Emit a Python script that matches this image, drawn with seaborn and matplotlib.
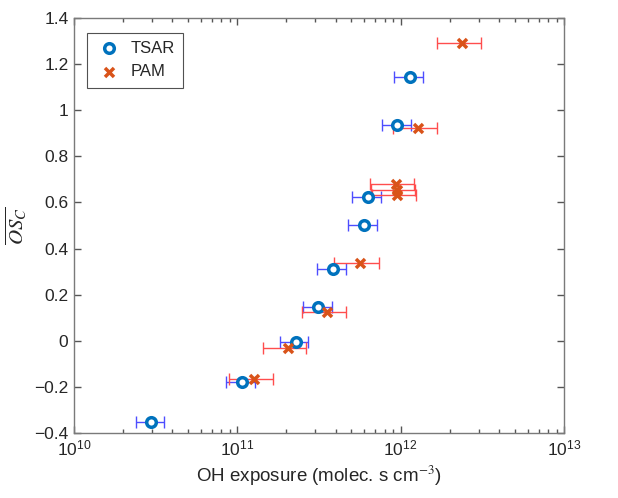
import numpy as np
import pandas as pd
import matplotlib
matplotlib.use("Agg")
import matplotlib.pyplot as plt
import seaborn as sns
from matplotlib.ticker import LogLocator, NullFormatter, FixedLocator, FixedFormatter

# TSAR data
tsar_x = [2.96e10, 1.07e11, 2.29e11, 3.13e11, 3.84e11, 5.97e11, 6.31e11, 9.55e11, 1.14e12]
tsar_y = [-0.353, -0.177, -0.005, 0.148, 0.313, 0.500, 0.625, 0.936, 1.143]
tsar_lo = [2.39e10, 8.57e10, 1.83e11, 2.52e11, 3.09e11, 4.77e11, 5.06e11, 7.66e11, 9.10e11]
tsar_hi = [3.57e10, 1.28e11, 2.72e11, 3.80e11, 4.63e11, 7.17e11, 7.55e11, 1.15e12, 1.37e12]

# PAM data
pam_x = [1.27e11, 2.03e11, 3.56e11, 5.61e11, 9.38e11, 9.50e11, 9.55e11, 1.27e12, 2.39e12]
pam_y = [-0.167, -0.032, 0.124, 0.336, 0.681, 0.655, 0.632, 0.922, 1.293]
pam_lo = [8.95e10, 1.43e11, 2.49e11, 3.93e11, 6.53e11, 6.60e11, 6.65e11, 8.93e11, 1.66e12]
pam_hi = [1.65e11, 2.63e11, 4.63e11, 7.38e11, 1.21e12, 1.23e12, 1.24e12, 1.66e12, 3.12e12]

y_ticks = [-0.4, -0.2, 0, 0.2, 0.4, 0.6, 0.8, 1, 1.2, 1.4]
y_labels = ['\u22120.4', '\u22120.2', '0', '0.2', '0.4', '0.6', '0.8', '1', '1.2', '1.4']

sns.set_style("ticks")
plt.rcParams.update({'font.family': ['Liberation Sans', 'DejaVu Sans'],
                     'mathtext.fontset': 'stix',
                     'axes.axisbelow': False})

fig = plt.figure(figsize=(6.18, 4.98), dpi=100)
ax = fig.add_axes([0.1197, 0.1305, 0.7929, 0.8334])

tsar = pd.DataFrame({"x": tsar_x, "y": tsar_y, "lo": tsar_lo, "hi": tsar_hi})
pam = pd.DataFrame({"x": pam_x, "y": pam_y, "lo": pam_lo, "hi": pam_hi})

ax.errorbar(tsar_x, tsar_y,
            xerr=[tsar["x"].values - tsar["lo"].values, tsar["hi"].values - tsar["x"].values],
            fmt='none', ecolor=(0.3, 0.3, 1.0), elinewidth=1.0, capsize=4, capthick=1.0, zorder=2)
ax.errorbar(pam_x, pam_y,
            xerr=[pam["x"].values - pam["lo"].values, pam["hi"].values - pam["x"].values],
            fmt='none', ecolor=(1.0, 0.3, 0.3), elinewidth=1.0, capsize=4, capthick=1.0, zorder=2)

sns.scatterplot(data=tsar, x="x", y="y", ax=ax, marker='o', s=48,
                facecolor='white', edgecolor='#0072BD', linewidth=2.5, label='TSAR', zorder=3)
sns.scatterplot(data=pam, x="x", y="y", ax=ax, marker='x', s=42,
                color='#D95319', linewidth=2.5, label='PAM', zorder=4)

ax.set_xscale('log')
ax.set_xlim(1e10, 1e13)
ax.set_ylim(-0.4, 1.4)
ax.yaxis.set_major_locator(FixedLocator(y_ticks))
ax.yaxis.set_major_formatter(FixedFormatter(y_labels))
ax.xaxis.set_major_locator(LogLocator(base=10, numticks=10))
ax.xaxis.set_minor_locator(LogLocator(base=10, subs=np.arange(2, 10), numticks=20))
ax.xaxis.set_minor_formatter(NullFormatter())

ax.set_xlabel('OH exposure (molec. s cm$^{-3}$)', fontsize=13.5, color='#262626', labelpad=4)
ax.set_ylabel(r'$\overline{OS_C}$', fontsize=15, color='#262626', labelpad=4)

leg = ax.legend(loc='upper left', bbox_to_anchor=(0.01, 0.985), frameon=True, fancybox=False,
                edgecolor='#262626', fontsize=12, handletextpad=0.5, borderpad=0.5,
                handlelength=1.6)
leg.get_frame().set_linewidth(0.8)
leg.set_zorder(10)

for s in ax.spines.values():
    s.set_edgecolor('#7a7a7a')
    s.set_linewidth(1.0)
    s.set_zorder(6)

ax.tick_params(axis='both', which='both', direction='in', top=True, right=True,
               bottom=True, left=True, colors='#555555', labelcolor='#262626',
               labelsize=12.5, width=1.0)
ax.tick_params(which='major', length=5, pad=4)
ax.tick_params(axis='x', which='minor', length=3)
ax.xaxis.set_zorder(5)
ax.yaxis.set_zorder(5)

fig.savefig('out.png', dpi=100)
